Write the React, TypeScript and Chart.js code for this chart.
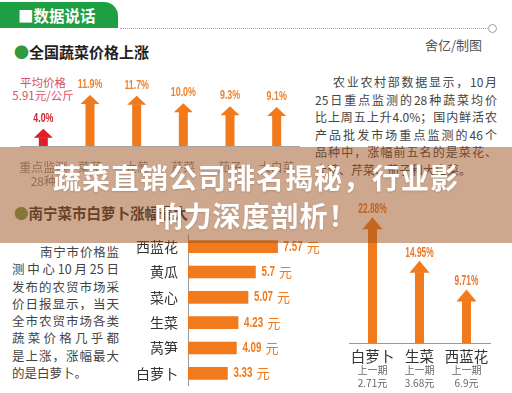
import React, { useEffect, useRef } from "react";
import { Chart, registerables } from "chart.js";

Chart.register(...registerables);

// ---------- data ----------
const nationalCats: (string | string[])[] = [["重点监测", "28种"], "菜花", "大葱", "芹菜", "茄子", "大白菜"];
const nationalRise = [4.0, 11.9, 11.7, 10.0, 9.3, 9.1];

const nanningCats = ["西蓝花", "黄瓜", "菜心", "生菜", "莴笋", "白萝卜"];
const nanningPrice = [7.57, 5.7, 5.07, 4.23, 4.09, 3.33];

const topRiseCats = ["白萝卜", "生菜", "西蓝花"];
const topRise = [22.88, 14.95, 9.71];
const prevPrice = [2.71, 3.68, 6.9];

const rightText = [
  "农业农村部数据显示，10月",
  "25日重点监测的28种蔬菜均价",
  "比上周五上升4.0%；国内鲜活农",
  "产品批发市场重点监测的46个",
  "品种中，涨幅前五名的是菜花、",
  "大葱、芹菜、茄子和大白菜。",
];
const leftText = [
  "南宁市价格监",
  "测中心10月25日",
  "发布的农贸市场采",
  "价日报显示，当天",
  "全市农贸市场各类",
  "蔬菜价格几乎都",
  "是上涨，涨幅最大",
  "的是白萝卜。",
];

// ---------- style ----------
const CJK = '"Noto Sans CJK SC", "Noto Sans", sans-serif';
const NUMF = '"Liberation Sans", "DejaVu Sans", sans-serif';
const ORANGE = "#f07a1c";
const RED = "#e01e2a";
const GREEN = "#1f9f43";

function narrowText(ctx: any, text: string, x: number, y: number, sx: number, align: string, baseline: string) {
  ctx.save();
  ctx.translate(x, y);
  ctx.scale(sx, 1);
  ctx.textAlign = align;
  ctx.textBaseline = baseline;
  ctx.fillText(text, 0, 0);
  const w = ctx.measureText(text).width * sx;
  ctx.restore();
  return w;
}

function makeArrowPlugin(cfg: {
  headW: number;
  headH: number;
  shaftW: number;
  colors: string[];
  labelColors: string[];
  font: string;
  decimals: number;
  gap: number;
  sx: number;
}) {
  return {
    id: "arrows",
    afterDatasetsDraw(chart: any) {
      const ctx = chart.ctx;
      const meta = chart.getDatasetMeta(0);
      const data = chart.data.datasets[0].data as number[];
      meta.data.forEach((el: any, i: number) => {
        const { x, y, base } = el.getProps(["x", "y", "base"], true);
        ctx.save();
        ctx.fillStyle = cfg.colors[i];
        ctx.fillRect(x - cfg.shaftW / 2, y + cfg.headH - 0.5, cfg.shaftW, base - y - cfg.headH + 0.5);
        ctx.beginPath();
        ctx.moveTo(x, y);
        ctx.lineTo(x + cfg.headW / 2, y + cfg.headH);
        ctx.lineTo(x - cfg.headW / 2, y + cfg.headH);
        ctx.closePath();
        ctx.fill();
        ctx.fillStyle = cfg.labelColors[i];
        ctx.font = cfg.font;
        narrowText(ctx, data[i].toFixed(cfg.decimals) + "%", x, y - cfg.gap, cfg.sx, "center", "bottom");
        ctx.restore();
      });
    },
  };
}

const barValuePlugin = {
  id: "barValues",
  afterDatasetsDraw(chart: any) {
    const ctx = chart.ctx;
    const meta = chart.getDatasetMeta(0);
    const data = chart.data.datasets[0].data as number[];
    meta.data.forEach((el: any, i: number) => {
      const { x, y } = el.getProps(["x", "y"], true);
      ctx.save();
      ctx.fillStyle = ORANGE;
      ctx.font = `bold 14px ${NUMF}`;
      const w = narrowText(ctx, String(data[i]), x + 6, y, 0.7, "left", "middle");
      ctx.font = `13px ${CJK}`;
      ctx.textAlign = "left";
      ctx.textBaseline = "middle";
      ctx.fillText("元", x + 6 + w + 4, y);
      ctx.restore();
    });
  },
};

const prevPlugin = {
  id: "prevLabels",
  afterDraw(chart: any) {
    const ctx = chart.ctx;
    const xs = chart.scales.x;
    const bottom = chart.chartArea.bottom;
    ctx.save();
    ctx.fillStyle = "#666";
    ctx.font = `10px ${CJK}`;
    ctx.textAlign = "center";
    ctx.textBaseline = "middle";
    prevPrice.forEach((p, i) => {
      const x = xs.getPixelForTick(i);
      ctx.fillText("上一期", x, bottom + 27);
      ctx.fillText(String(p) + "元", x, bottom + 40);
    });
    ctx.restore();
  },
};

function ChartBox(props: { left: number; top: number; width: number; height: number; build: () => any }) {
  const ref = useRef<HTMLCanvasElement | null>(null);
  useEffect(() => {
    if (!ref.current) return;
    const chart = new Chart(ref.current, props.build());
    return () => chart.destroy();
  }, []);
  return (
    <canvas
      ref={ref}
      width={props.width}
      height={props.height}
      style={{ position: "absolute", left: props.left, top: props.top, width: props.width, height: props.height }}
    />
  );
}

const baseOpts = {
  animation: false,
  responsive: false,
  maintainAspectRatio: false,
  devicePixelRatio: 1,
};

function zeroPad(s: any) {
  s.paddingTop = 0;
  s.paddingBottom = 0;
  s.paddingLeft = 0;
  s.paddingRight = 0;
}

function buildNational() {
  return {
    type: "bar",
    data: {
      labels: nationalCats,
      datasets: [{ data: nationalRise, backgroundColor: "rgba(0,0,0,0)", barThickness: 9 }],
    },
    options: {
      ...baseOpts,
      layout: { padding: { left: 10, right: 0, top: 0, bottom: 0 } },
      plugins: { legend: { display: false }, tooltip: { enabled: false } },
      scales: {
        x: {
          grid: { display: false },
          border: { display: true, color: "#aaa49c", width: 1 },
          ticks: { color: "#8a8a8a", font: { size: 12, family: CJK }, padding: 6, maxRotation: 0, minRotation: 0, autoSkip: false },
          afterFit: (s: any) => {
            s.height = 40;
            zeroPad(s);
          },
        },
        y: { display: false, min: 0, max: 21 },
      },
    },
    plugins: [
      makeArrowPlugin({
        headW: 19,
        headH: 9,
        shaftW: 9,
        colors: nationalRise.map((_, i) => (i === 0 ? RED : ORANGE)),
        labelColors: nationalRise.map((_, i) => (i === 0 ? "#d42030" : "#ec8330")),
        font: `bold 13px ${NUMF}`,
        decimals: 1,
        gap: 4,
        sx: 0.68,
      }),
    ],
  };
}

function buildNanning() {
  return {
    type: "bar",
    data: {
      labels: nanningCats,
      datasets: [{ data: nanningPrice, backgroundColor: ORANGE, barThickness: 12 }],
    },
    options: {
      ...baseOpts,
      indexAxis: "y",
      layout: { padding: 0 },
      plugins: { legend: { display: false }, tooltip: { enabled: false } },
      scales: {
        x: { display: false, min: 0, max: 12 },
        y: {
          grid: { display: false },
          border: { display: true, color: "#9a9a9a", width: 1 },
          ticks: { color: "#333", font: { size: 14, family: CJK }, padding: 2, autoSkip: false },
          afterFit: (s: any) => {
            s.width = 58;
            zeroPad(s);
          },
        },
      },
    },
    plugins: [barValuePlugin],
  };
}

function buildTopRise() {
  return {
    type: "bar",
    data: {
      labels: topRiseCats,
      datasets: [{ data: topRise, backgroundColor: "rgba(0,0,0,0)", barThickness: 9 }],
    },
    options: {
      ...baseOpts,
      layout: { padding: { left: 4, right: 20, top: 0, bottom: 0 } },
      plugins: { legend: { display: false }, tooltip: { enabled: false } },
      scales: {
        x: {
          grid: { display: false },
          border: { display: true, color: "#9a9a9a", width: 1 },
          ticks: { color: "#333", font: { size: 14.5, family: CJK }, padding: -3, maxRotation: 0, minRotation: 0, autoSkip: false },
          afterFit: (s: any) => {
            s.height = 50;
            zeroPad(s);
          },
        },
        y: { display: false, min: 0, max: 26 },
      },
    },
    plugins: [
      makeArrowPlugin({
        headW: 20,
        headH: 12,
        shaftW: 9,
        colors: topRise.map(() => ORANGE),
        labelColors: topRise.map(() => "#e8782a"),
        font: `bold 14px ${NUMF}`,
        decimals: 2,
        gap: 1,
        sx: 0.6,
      }),
      prevPlugin,
    ],
  };
}

const paraLine: React.CSSProperties = {
  textAlign: "justify",
  textAlignLast: "justify",
  whiteSpace: "nowrap",
  height: 17.6,
  lineHeight: "17.6px",
};

export default function App() {
  return (
    <div
      style={{
        position: "fixed",
        left: 0,
        top: 0,
        width: 512,
        height: 393,
        overflow: "hidden",
        background: "#fff",
        fontFamily: CJK,
      }}
    >
      {/* header tab */}
      <div
        style={{
          position: "absolute",
          left: 0,
          top: 2,
          width: 118,
          height: 26,
          background: GREEN,
          borderTopRightRadius: 14,
          color: "#fff",
          fontWeight: 700,
          fontSize: 15.5,
          lineHeight: "26px",
          paddingLeft: 18,
          boxSizing: "border-box",
          letterSpacing: 0,
        }}
      >
        ■数据说话
      </div>
      <div style={{ position: "absolute", left: 120, top: 28, width: 368, borderTop: "1.5px dotted #a8a8a8" }} />
      <div
        style={{
          position: "absolute",
          left: 488,
          top: 24,
          width: 7,
          height: 7,
          borderRadius: "50%",
          border: "1.5px solid #a0a0a0",
        }}
      />

      {/* section 1 title */}
      <div style={{ position: "absolute", left: 14, top: 41, fontSize: 15, fontWeight: 700, color: "#222", lineHeight: "22px" }}>
        <span style={{ color: "#2f9a3e" }}>●</span>全国蔬菜价格上涨
      </div>
      <div style={{ position: "absolute", left: 425, top: 36, fontSize: 13, color: "#555", lineHeight: "18px" }}>舍亿/制图</div>

      {/* avg price note */}
      <div
        style={{
          position: "absolute",
          left: 8,
          top: 76,
          width: 70,
          textAlign: "center",
          fontSize: 11.5,
          color: "#d9506a",
          lineHeight: "12.5px",
        }}
      >
        平均价格
        <br />
        5.91元/公斤
      </div>

      <ChartBox left={10} top={56} width={290} height={130} build={buildNational} />

      {/* right paragraph */}
      <div style={{ position: "absolute", left: 315, top: 73, width: 182, fontSize: 12, color: "#444" }}>
        {rightText.map((t, i) => (
          <div
            key={i}
            style={{
              ...paraLine,
              marginLeft: i === 0 ? 18 : 0,
              textAlignLast: i === rightText.length - 1 ? "left" : "justify",
            }}
          >
            {t}
          </div>
        ))}
      </div>

      {/* section 2 title */}
      <div style={{ position: "absolute", left: 14, top: 202, fontSize: 14.5, fontWeight: 700, color: "#333", lineHeight: "22px" }}>
        <span style={{ color: "#6e9e55" }}>●</span>南宁菜市白萝卜涨幅最大
      </div>

      {/* left paragraph */}
      <div style={{ position: "absolute", left: 12, top: 243, width: 107, fontSize: 12.5, color: "#444" }}>
        {leftText.map((t, i) => (
          <div
            key={i}
            style={{
              ...paraLine,
              height: 17.3,
              lineHeight: "17.3px",
              marginLeft: i === 0 ? 28 : 0,
              textAlignLast: i === leftText.length - 1 ? "left" : "justify",
            }}
          >
            {t}
          </div>
        ))}
      </div>

      <ChartBox left={130} top={234} width={200} height={152} build={buildNanning} />
      <ChartBox left={345} top={200} width={165} height={193} build={buildTopRise} />

      {/* overlay band with title */}
      <div
        style={{
          position: "absolute",
          left: 0,
          top: 147,
          width: 512,
          height: 96,
          background: "rgba(155,80,30,0.5)",
          zIndex: 5,
          color: "#fff",
          fontWeight: 700,
          fontSize: 28,
          lineHeight: "38px",
          textAlign: "center",
          paddingTop: 11,
          boxSizing: "border-box",
          letterSpacing: 1,
          textShadow: "0 1px 2px rgba(0,0,0,0.15)",
        }}
      >
        蔬菜直销公司排名揭秘，行业影
        <br />
        响力深度剖析！
      </div>
    </div>
  );
}
